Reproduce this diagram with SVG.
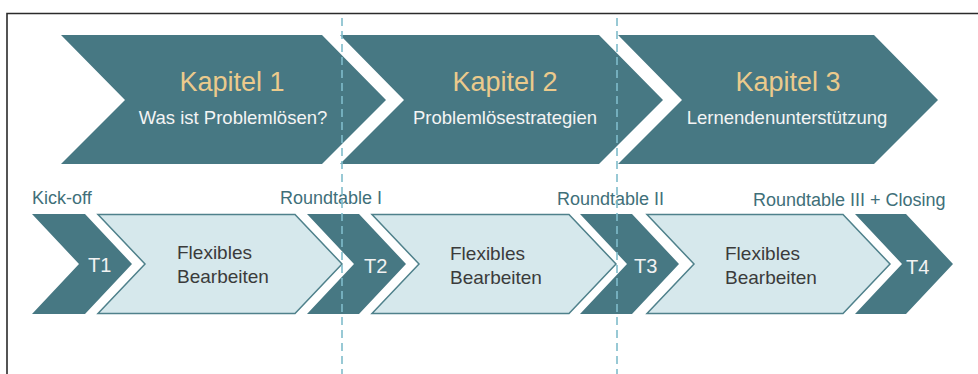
<svg xmlns="http://www.w3.org/2000/svg" width="978" height="374" viewBox="0 0 978 374">
  <style>
    .frame { stroke: #2b2b2b; stroke-width: 1.6; fill: none; }
    .dark { fill: #477883; }
    .light { fill: #d6e8ec; stroke: #4f818b; stroke-width: 1.5; }
    .guide { stroke: #7fbccb; stroke-width: 1.6; stroke-dasharray: 8 5; fill: none; }
    .kap { font-family: "Liberation Sans", Arial, sans-serif; font-size: 27px; fill: #ebca8c; text-anchor: middle; }
    .sub { font-family: "Liberation Sans", Arial, sans-serif; font-size: 18.5px; fill: #f4f4f4; text-anchor: middle; }
    .lbl { font-family: "Liberation Sans", Arial, sans-serif; font-size: 18px; fill: #406f79; }
    .tag { font-family: "Liberation Sans", Arial, sans-serif; font-size: 20px; fill: #f2f2f2; }
    .flex { font-family: "Liberation Sans", Arial, sans-serif; font-size: 19px; fill: #3b3b3b; }
  </style>

  <!-- outer frame (top and left edges) -->
  <path class="frame" d="M7 374 V13.5 H978"/>

  <!-- chapter chevrons -->
  <g id="kapitel1">
    <polygon class="dark" points="61,35 322,35 386,100 322,164 61,164 125,100"/>
    <text class="kap" x="232" y="91">Kapitel 1</text>
    <text class="sub" x="233" y="124">Was ist Problemlösen?</text>
  </g>
  <g id="kapitel2">
    <polygon class="dark" points="340,35 599,35 663,100 599,164 340,164 404,100"/>
    <text class="kap" x="505" y="91">Kapitel 2</text>
    <text class="sub" x="505" y="124">Problemlösestrategien</text>
  </g>
  <g id="kapitel3">
    <polygon class="dark" points="618,35 874,35 938,100 874,164 618,164 682,100"/>
    <text class="kap" x="788" y="91">Kapitel 3</text>
    <text class="sub" x="787" y="124">Lernendenunterstützung</text>
  </g>

  <!-- milestone labels -->
  <g id="labels">
    <text class="lbl" x="32" y="204">Kick-off</text>
    <text class="lbl" x="280" y="204">Roundtable I</text>
    <text class="lbl" x="557" y="205">Roundtable II</text>
    <text class="lbl" x="753" y="206">Roundtable III + Closing</text>
  </g>

  <!-- session chevrons -->
  <g id="t1">
    <polygon class="dark" points="32,214 85,214 132,264 85,314 32,314 79,264"/>
    <text class="tag" x="88" y="272">T1</text>
  </g>
  <g id="flex1">
    <polygon class="light" points="98,214.5 295,214.5 342,264 295,313.5 98,313.5 145,264"/>
    <text class="flex" x="177" y="259">Flexibles</text>
    <text class="flex" x="177" y="283">Bearbeiten</text>
  </g>
  <g id="t2">
    <polygon class="dark" points="307,214 359,214 406,264 359,314 307,314 354,264"/>
    <text class="tag" x="364" y="273">T2</text>
  </g>
  <g id="flex2">
    <polygon class="light" points="372,214.5 569,214.5 616,264 569,313.5 372,313.5 419,264"/>
    <text class="flex" x="450" y="260">Flexibles</text>
    <text class="flex" x="450" y="284">Bearbeiten</text>
  </g>
  <g id="t3">
    <polygon class="dark" points="580,214 632,214 679,264 632,314 580,314 627,264"/>
    <text class="tag" x="634" y="273">T3</text>
  </g>
  <g id="flex3">
    <polygon class="light" points="647,214.5 843,214.5 890,264 843,313.5 647,313.5 694,264"/>
    <text class="flex" x="725" y="260">Flexibles</text>
    <text class="flex" x="725" y="284">Bearbeiten</text>
  </g>
  <g id="t4">
    <polygon class="dark" points="855,214 906,214 953,264 906,314 855,314 902,264"/>
    <text class="tag" x="906" y="274">T4</text>
  </g>

  <!-- phase boundaries -->
  <g id="connectors">
    <line class="guide" x1="342" y1="18" x2="342" y2="374"/>
    <line class="guide" x1="617" y1="18" x2="617" y2="374"/>
  </g>
</svg>
